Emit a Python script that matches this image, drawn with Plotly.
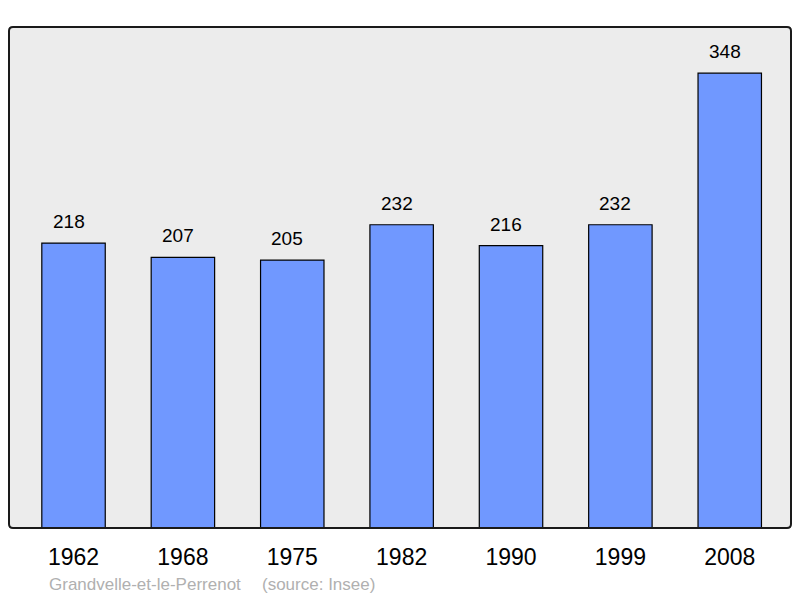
import plotly.graph_objects as go

years = ["1962", "1968", "1975", "1982", "1990", "1999", "2008"]
population = [218, 207, 205, 232, 216, 232, 348]
commune = "Grandvelle-et-le-Perrenot"
source = "(source: Insee)"

FONT = "Liberation Sans, Arial, sans-serif"
PW, PH = 782, 501

fig = go.Figure()
fig.add_trace(go.Bar(
    x=years, y=population,
    marker=dict(color="#7098ff", line=dict(color="#000000", width=1.2)),
    width=0.58,
    hoverinfo="x+y",
))

for i, v in enumerate(population):
    fig.add_annotation(x=i, y=v, text=str(v), showarrow=False,
                       yanchor="bottom", yshift=9, xshift=-5,
                       font=dict(family=FONT, size=19, color="#000"))

fig.add_annotation(xref="paper", yref="paper", x=(47 - 9) / PW, y=-(584 - 528) / PH,
                   xanchor="left", yanchor="middle", showarrow=False, text=commune,
                   font=dict(family=FONT, size=17, color="#b0b0b0"))
fig.add_annotation(xref="paper", yref="paper", x=(260 - 9) / PW, y=-(584 - 528) / PH,
                   xanchor="left", yanchor="middle", showarrow=False, text=source,
                   font=dict(family=FONT, size=17, color="#b0b0b0"))

# frame with slightly rounded corners
rx, ry = 4 / PW, 4 / PH
path = (f"M {rx},0 L {1-rx},0 Q 1,0 1,{ry} L 1,{1-ry} Q 1,1 {1-rx},1 "
        f"L {rx},1 Q 0,1 0,{1-ry} L 0,{ry} Q 0,0 {rx},0 Z")
fig.add_shape(type="path", xref="paper", yref="paper", path=path,
              line=dict(color="#1a1a1a", width=2), layer="above")

fig.update_layout(
    width=800, height=598,
    margin=dict(l=9, r=9, t=27, b=70),
    paper_bgcolor="#ffffff",
    plot_bgcolor="#ececec",
    showlegend=False,
    xaxis=dict(type="category", range=[-0.59, 6.56], showgrid=False, zeroline=False,
               ticks="outside", ticklen=8, tickcolor="rgba(0,0,0,0)",
               tickfont=dict(family=FONT, size=23, color="#000")),
    yaxis=dict(range=[0, 383.3], showgrid=False, zeroline=False, showticklabels=False),
)

fig.write_html("out.html", config={"displayModeBar": False},
               post_script="document.body.style.margin='0';document.body.style.overflow='hidden';")
